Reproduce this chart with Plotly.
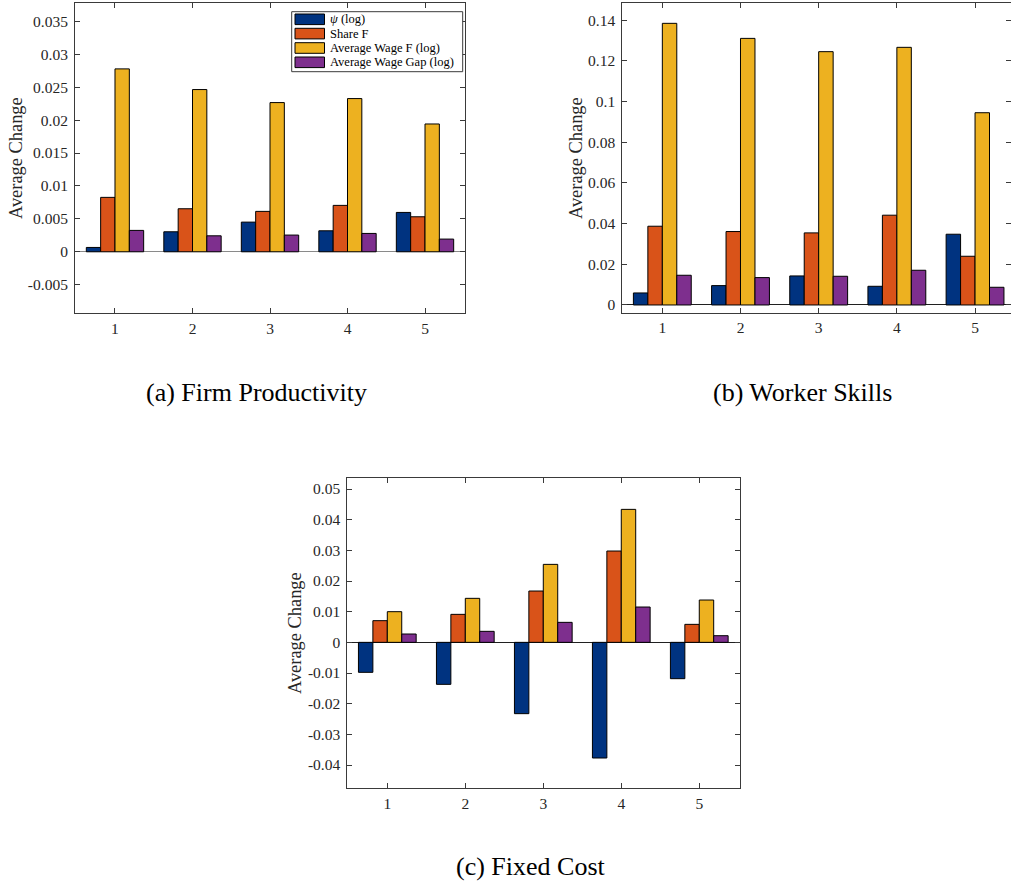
import plotly.graph_objects as go

W, H = 1011, 884

groups = [1, 2, 3, 4, 5]
series_names = ["<i>ψ</i> (log)", "Share F", "Average Wage F (log)", "Average Wage Gap (log)"]
colors = ["#003380", "#D95319", "#EDB120", "#7E2F8E"]

# Panel (a) Firm Productivity
a_psi = [0.00066, 0.00304, 0.00451, 0.00319, 0.00598]
a_share = [0.00827, 0.00654, 0.00614, 0.00705, 0.00532]
a_wage = [0.02779, 0.02465, 0.02267, 0.02328, 0.01942]
a_gap = [0.00325, 0.00243, 0.00254, 0.00279, 0.00193]

# Panel (b) Worker Skills
b_psi = [0.00591, 0.00952, 0.01428, 0.00919, 0.03479]
b_share = [0.03873, 0.03611, 0.03545, 0.04415, 0.02396]
b_wage = [0.1385, 0.1311, 0.12457, 0.1267, 0.09454]
b_gap = [0.01461, 0.01346, 0.01411, 0.01707, 0.0087]

# Panel (c) Fixed Cost
c_psi = [-0.00978, -0.0137, -0.02326, -0.03772, -0.01185]
c_share = [0.00707, 0.00913, 0.01674, 0.02978, 0.00587]
c_wage = [0.0100, 0.01435, 0.02543, 0.04337, 0.0138]
c_gap = [0.00272, 0.00359, 0.00652, 0.01152, 0.00217]

a_ticks = [-0.005, 0, 0.005, 0.01, 0.015, 0.02, 0.025, 0.03, 0.035]
a_labels = ["-0.005", "0", "0.005", "0.01", "0.015", "0.02", "0.025", "0.03", "0.035"]
b_ticks = [0, 0.02, 0.04, 0.06, 0.08, 0.1, 0.12, 0.14]
b_labels = ["0", "0.02", "0.04", "0.06", "0.08", "0.1", "0.12", "0.14"]
c_ticks = [-0.04, -0.03, -0.02, -0.01, 0, 0.01, 0.02, 0.03, 0.04, 0.05]
c_labels = ["-0.04", "-0.03", "-0.02", "-0.01", "0", "0.01", "0.02", "0.03", "0.04", "0.05"]

captions = ["(a) Firm Productivity", "(b) Worker Skills", "(c) Fixed Cost"]
ytitle = "Average Change"

SERIF = "Liberation Serif, Times New Roman, serif"

def px(x):
    return x / W

def py(y):
    return 1 - y / H

fig = go.Figure()

panels = [
    ("x", "y", [a_psi, a_share, a_wage, a_gap]),
    ("x2", "y2", [b_psi, b_share, b_wage, b_gap]),
    ("x3", "y3", [c_psi, c_share, c_wage, c_gap]),
]
for xa, ya, data in panels:
    for name, col, vals in zip(series_names, colors, data):
        fig.add_trace(go.Bar(
            x=groups, y=vals, name=name, xaxis=xa, yaxis=ya,
            marker=dict(color=col, line=dict(color="#000000", width=1)),
            showlegend=False,
        ))

axcol = "#3a3a3a"
tickfont = dict(family=SERIF, size=15.5, color="#262626")

def xax(domain, rng, anchor):
    return dict(domain=domain, range=rng, anchor=anchor, tickvals=groups,
                ticktext=[str(g) for g in groups], ticks="inside", ticklen=5,
                tickcolor=axcol, showline=True, linecolor=axcol, linewidth=1,
                mirror="ticks", showgrid=False, zeroline=False, tickfont=tickfont,
                ticklabelstandoff=1, fixedrange=True)

def yax(domain, rng, anchor, tv, tt, zcol):
    return dict(domain=domain, range=rng, anchor=anchor, tickvals=tv, ticktext=tt,
                ticks="inside", ticklen=5, tickcolor=axcol, showline=True,
                linecolor=axcol, linewidth=1, mirror="ticks", showgrid=False,
                zeroline=True, zerolinecolor=zcol, zerolinewidth=1,
                tickfont=tickfont, ticklabelstandoff=3, fixedrange=True)

fig.update_layout(
    width=W, height=H,
    margin=dict(l=0, r=0, t=0, b=0),
    paper_bgcolor="white", plot_bgcolor="white",
    barmode="group", bargap=0.26, bargroupgap=0,
    showlegend=False,
    xaxis=xax([px(75), px(465)], [0.484, 5.516], "y"),
    yaxis=yax([py(313), py(3)], [-0.0093, 0.0378], "x", a_ticks, a_labels, "#8a8a8a"),
    xaxis2=xax([px(622.3), 1.0], [0.488, 5.46], "y2"),
    yaxis2=yax([py(312.7), py(3)], [-0.0038, 0.1485], "x2", b_ticks, b_labels, "#202020"),
    xaxis3=xax([px(347.3), px(740.3)], [0.487, 5.526], "y3"),
    yaxis3=yax([py(788.3), py(478.3)], [-0.0476, 0.0535], "x3", c_ticks, c_labels, "#202020"),
)

ann = []
# y-axis titles
for (cx, cy) in [(16, 158), (576, 158), (295, 633)]:
    ann.append(dict(x=px(cx), y=py(cy), xref="paper", yref="paper", text=ytitle,
                    textangle=-90, showarrow=False, xanchor="center", yanchor="middle",
                    font=dict(family=SERIF, size=18.4, color="#262626")))
# captions
for (cx, cy), cap in zip([(256, 392), (802, 392), (531, 866)], captions):
    ann.append(dict(x=px(cx), y=py(cy), xref="paper", yref="paper", text=cap,
                    showarrow=False, xanchor="center", yanchor="middle",
                    font=dict(family=SERIF, size=26, color="#000000")))

# legend (manual)
shapes = [dict(type="rect", xref="paper", yref="paper",
               x0=px(291.7), x1=px(462.7), y0=py(71.7), y1=py(11.7),
               line=dict(color=axcol, width=1), fillcolor="white", layer="above")]
rows = [19.3, 33.6, 48.0, 62.3]
for ry, name, col in zip(rows, series_names, colors):
    shapes.append(dict(type="rect", xref="paper", yref="paper",
                       x0=px(295), x1=px(324.5), y0=py(ry + 5.3), y1=py(ry - 5.3),
                       line=dict(color="#000000", width=1), fillcolor=col, layer="above"))
    ann.append(dict(x=px(327.5), y=py(ry), xref="paper", yref="paper", text=name,
                    showarrow=False, xanchor="left", yanchor="middle",
                    font=dict(family=SERIF, size=12.5, color="#000000")))

fig.update_layout(annotations=ann, shapes=shapes)

fig.write_html("out.html")
